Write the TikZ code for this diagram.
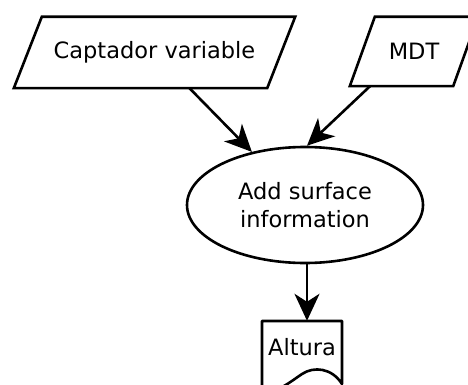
\documentclass[tikz,border=0pt]{standalone}
\usepackage{fontspec}
\setmainfont{DejaVu Sans}
\usetikzlibrary{arrows.meta,shapes.geometric}

\tikzset{
  inbox/.style={inner sep=0pt},
  procbox/.style={draw, line width=2.6pt, ellipse, minimum width=236pt, minimum height=116pt,
    inner sep=0pt, align=center},
  outline/.style={line width=2.6pt, line join=miter},
  flow/.style={line width=2.6pt, -{Stealth[length=27pt,width=25pt,inset=8pt]}}
}

\begin{document}
\begin{tikzpicture}[x=1pt,y=1pt,yscale=-1,font=\fontsize{22.5}{28}\selectfont]
\useasboundingbox (0,0) rectangle (468,385);

%Shape: Parallelogram
\node[inbox, minimum width=281pt, minimum height=71pt] (cap) at (154.5,52.5) {Captador variable};
\draw[outline] (cap.south west) -- ([xshift=28pt]cap.north west) -- (cap.north east)
  -- ([xshift=-28pt]cap.south east) -- cycle;
%Shape: Parallelogram
\node[inbox, minimum width=128pt, minimum height=69pt] (mdt) at (414,51.5) {MDT};
\draw[outline] (mdt.south west) -- ([xshift=25pt]mdt.north west) -- (mdt.north east)
  -- ([xshift=-25pt]mdt.south east) -- cycle;

%Shape: Ellipse
\node[procbox] (add) at (305,205) {Add surface\\information};

%Shape: Document
\node[minimum width=80pt, minimum height=52pt, inner sep=0pt] (altura) at (302,347) {Altura};
\draw[outline, line join=round] (262,392) -- (262,321) -- (342,321) -- (342,384)
  .. controls (332,368) and (314,366) .. (302,374)
  .. controls (290,382) and (276,394) .. (262,392);

%Straight Lines
\draw[flow] ([xshift=35pt]cap.south) -- (add.135);
%Straight Lines
\draw[flow] ([xshift=-44pt]mdt.south) -- ([xshift=2pt]add.north);
%Straight Lines
\draw[flow] ([xshift=2pt]add.south) -- ([xshift=2pt]add.south |- altura.north);
\end{tikzpicture}
\end{document}
